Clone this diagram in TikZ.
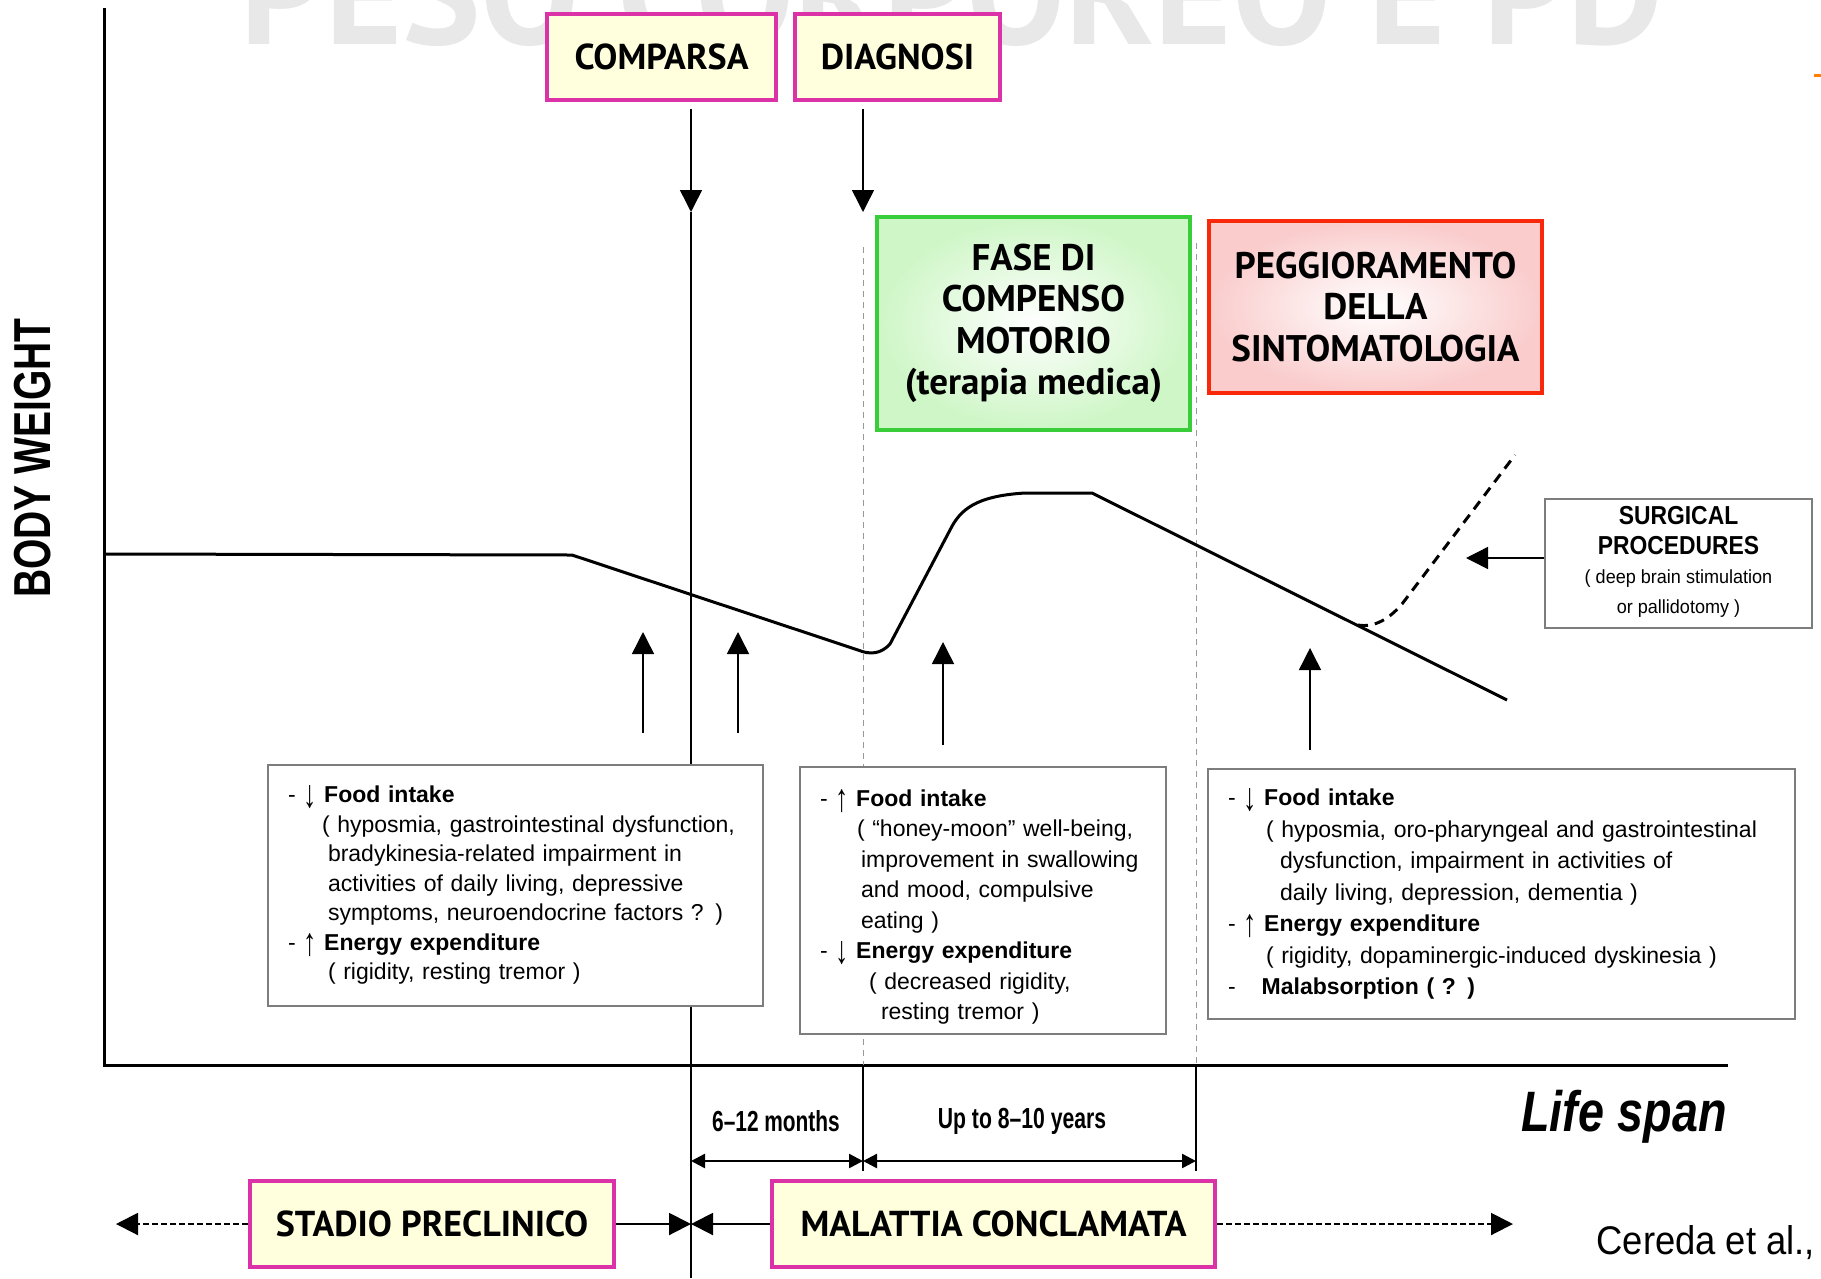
\documentclass[tikz,border=0pt]{standalone}
\usepackage{fontspec}
\setmainfont{Liberation Sans}
\newfontfamily\headfont{PT Sans}
\usepackage{graphicx}
\usetikzlibrary{arrows.meta,positioning}

\definecolor{stagepink}{RGB}{219,50,168}
\definecolor{stagefill}{RGB}{255,255,222}
\definecolor{phasegreen}{RGB}{58,205,58}
\definecolor{phasegreenfill}{RGB}{206,246,198}
\definecolor{phasered}{RGB}{250,40,10}
\definecolor{phaseredfill}{RGB}{250,204,204}
\definecolor{boxgray}{RGB}{125,125,125}

\newcommand{\narrow}[2][0.8]{\scalebox{#1}[1]{#2}}
\newcommand{\less}{\raisebox{-0.22em}{\scalebox{1.15}[1.7]{↓}}}
\newcommand{\more}{\raisebox{-0.22em}{\scalebox{1.15}[1.7]{↑}}}

\begin{document}
\begin{tikzpicture}[x=1pt,y=-1pt,
stagebox/.style={
draw=stagepink,
line width=4pt,
fill=stagefill,
inner sep=0pt,
minimum height=86pt,
font=\headfont\bfseries\fontsize{36}{40}\selectfont
},
phasebox/.style={
line width=4.5pt,
inner sep=0pt,
align=center,
font=\headfont\bfseries\fontsize{37}{41.5}\selectfont
},
infobox/.style={
draw=boxgray,
line width=2pt,
fill=white,
inner xsep=20pt,
inner ysep=0pt,
align=left,
font=\fontsize{23}{29.5}\selectfont
},
pointer/.style={-{Triangle[width=22pt,length=22pt]},line width=1.5pt},
spanarrow/.style={{Triangle[width=14pt,length=14pt]}-{Triangle[width=14pt,length=14pt]},line width=2.5pt},
phaseline/.style={dashed,dash pattern=on 6pt off 5pt,black!40,line width=1pt},
weight/.style={line width=3pt,line join=round}]

\useasboundingbox (0,0) rectangle (1821,1278);
\clip (0,0) rectangle (1821,1278);

\node[font=\headfont\bfseries\fontsize{148}{148}\selectfont,text=black!9,anchor=base] (ghost) at (952,44) {PESO CORPOREO E PD};
\draw[orange,line width=3pt] (1814,75) -- (1821,75);

% axes
\coordinate (ytop) at (104,8);
\coordinate (origin) at (104,1065);
\coordinate (xend) at (1728,1065);
\draw[line width=3pt] (ytop) -- (origin) -- (xend);
\node[rotate=90,font=\bfseries\fontsize{52}{52}\selectfont] (yname) at (33,458) {\narrow[0.75]{BODY WEIGHT}};
\node[font=\bfseries\itshape\fontsize{57}{57}\selectfont] (xname) at (1624,1117) {\narrow[0.82]{Life span}};

% phase borders
\coordinate (onsetTip) at (691,212);
\coordinate (onsetEnd) at (691,1278);
\coordinate (diagTip) at (863,212);
\coordinate (diagDash) at (863,247);
\coordinate (diagAxis) at (863,1065);
\coordinate (diagEnd) at (863,1171);
\coordinate (lateDash) at (1196,243);
\coordinate (lateAxis) at (1196,1065);
\coordinate (lateEnd) at (1196,1171);

\draw[line width=1.5pt] (onsetTip) -- (onsetEnd);
\draw[phaseline] (diagDash) -- (diagAxis);
\draw[phaseline] (lateDash) -- (lateAxis);
\draw[line width=1.5pt] (diagAxis) -- (diagEnd);
\draw[line width=1.5pt] (lateAxis) -- (lateEnd);

% body weight curve
\draw[weight] (origin |- 0,554) -- (572,555) -- (858,650)
  .. controls (870,655) and (881,654) .. (890,644)
  -- (950,530)
  .. controls (960,510) and (975,496) .. (1025,493)
  -- (1092,493) -- (1507,700);
\coordinate (dbs) at (1358,625);
\draw[weight,dash pattern=on 10pt off 7pt] (dbs)
  .. controls (1375,628) and (1390,618) .. (1402,604) -- (1515,455);

% up arrows
\coordinate (u1) at (643,733);
\coordinate (u2) at (738,733);
\coordinate (u3) at (943,745);
\coordinate (u4) at (1310,750);
\draw[pointer] (u1) -- (643,632);
\draw[pointer] (u2) -- (738,632);
\draw[pointer] (u3) -- (943,642);
\draw[pointer] (u4) -- (1310,648);

% stage labels
\node[stagebox,minimum width=229pt] (onset) at (661.5,57) {COMPARSA};
\node[stagebox,minimum width=205pt] (diagnosis) at (897.5,57) {DIAGNOSI};
\node[stagebox,minimum width=364pt] (preclin) at (432,1224) {STADIO PRECLINICO};
\node[stagebox,minimum width=443pt] (overt) at (993.5,1224) {MALATTIA CONCLAMATA};

\draw[pointer] (onset.south -| onsetTip) ++(0,7) -- (onsetTip);
\draw[pointer] (diagnosis.south -| diagTip) ++(0,7) -- (diagTip);

% phases
\node[phasebox,draw=phasegreen,inner color=white,outer color=phasegreenfill,minimum width=313pt,minimum height=213pt] (honeymoon) at (1033.5,323.5) {FASE DI\\COMPENSO\\MOTORIO\\(terapia medica)};
\node[phasebox,draw=phasered,inner color=white,outer color=phaseredfill,minimum width=333pt,minimum height=172pt] (worsening) at (1375.5,307) {PEGGIORAMENTO\\DELLA\\SINTOMATOLOGIA};

% surgery
\node[infobox,align=center,inner xsep=0pt,minimum width=267pt,minimum height=129pt] (surgery) at (1678.5,563) {%
\begin{tabular}{@{}c@{}}
\fontsize{26}{26}\selectfont\bfseries\narrow[0.88]{SURGICAL}\\
\fontsize{26}{26}\selectfont\bfseries\narrow[0.88]{PROCEDURES}\\
\fontsize{19}{26}\selectfont\narrow[0.95]{( deep brain stimulation}\\
\fontsize{19}{26}\selectfont\narrow[0.95]{or pallidotomy )}
\end{tabular}};
\draw[pointer] (surgery.west |- 0,558) -- (1466,558);

% causes
\node[infobox,text width=455pt,minimum height=241pt] (early) at (515.5,885.5) {%
\begin{tabular}{@{}l@{}}
- \less\ \textbf{Food intake}\\
\hspace*{34pt}( hyposmia, gastrointestinal dysfunction,\\
\hspace*{40pt}bradykinesia-related impairment in\\
\hspace*{40pt}activities of daily living, depressive\\
\hspace*{40pt}symptoms, neuroendocrine factors ? )\\
- \more\ \textbf{Energy expenditure}\\
\hspace*{40pt}( rigidity, resting tremor )
\end{tabular}};
\node[infobox,text width=326pt,minimum height=267pt,font=\fontsize{23}{30.5}\selectfont] (middle) at (983,900.5) {%
\begin{tabular}{@{}l@{}}
\rule{0pt}{34pt}- \more\ \textbf{Food intake}\\
\hspace*{37pt}( “honey-moon” well-being,\\
\hspace*{41pt}improvement in swallowing\\
\hspace*{41pt}and mood, compulsive\\
\hspace*{41pt}eating )\\
- \less\ \textbf{Energy expenditure}\\
\hspace*{49pt}( decreased rigidity,\\
\hspace*{61pt}resting tremor )
\end{tabular}};
\node[infobox,text width=547pt,minimum height=250pt,font=\fontsize{23}{31.5}\selectfont] (late) at (1501.5,894) {%
\begin{tabular}{@{}l@{}}
- \less\ \textbf{Food intake}\\
\hspace*{38pt}( hyposmia, oro-pharyngeal and gastrointestinal\\
\hspace*{52pt}dysfunction, impairment in activities of\\
\hspace*{52pt}daily living, depression, dementia )\\
- \more\ \textbf{Energy expenditure}\\
\hspace*{38pt}( rigidity, dopaminergic-induced dyskinesia )\\
-\hspace*{26pt}\textbf{Malabsorption ( ? )}
\end{tabular}};

% durations
\draw[spanarrow] (onsetTip |- 0,1161) -- (diagEnd |- 0,1161);
\draw[spanarrow] (diagEnd |- 0,1161) -- (lateEnd |- 0,1161);
\node[font=\bfseries\fontsize{29}{29}\selectfont] (months) at (776,1121) {\narrow[0.72]{6–12 months}};
\node[font=\bfseries\fontsize{29}{29}\selectfont] (years) at (1022,1121) {\narrow[0.73]{Up to 8–10 years}};

% stages on time line
\coordinate (farL) at (116,1224);
\coordinate (farR) at (1513,1224);
\draw[pointer,line width=2pt,dash pattern=on 6pt off 3pt] (preclin.west) -- (farL);
\draw[pointer,line width=2pt] (preclin.east) -- (onsetEnd |- preclin);
\draw[pointer,line width=2pt] (overt.west) -- (onsetEnd |- overt);
\draw[pointer,line width=2pt,dash pattern=on 6pt off 3pt] (overt.east) -- (farR);

\node[anchor=base west,font=\fontsize{40}{40}\selectfont] (source) at (1593,1254) {\narrow[0.91]{Cereda et al.,}};

\end{tikzpicture}
\end{document}
